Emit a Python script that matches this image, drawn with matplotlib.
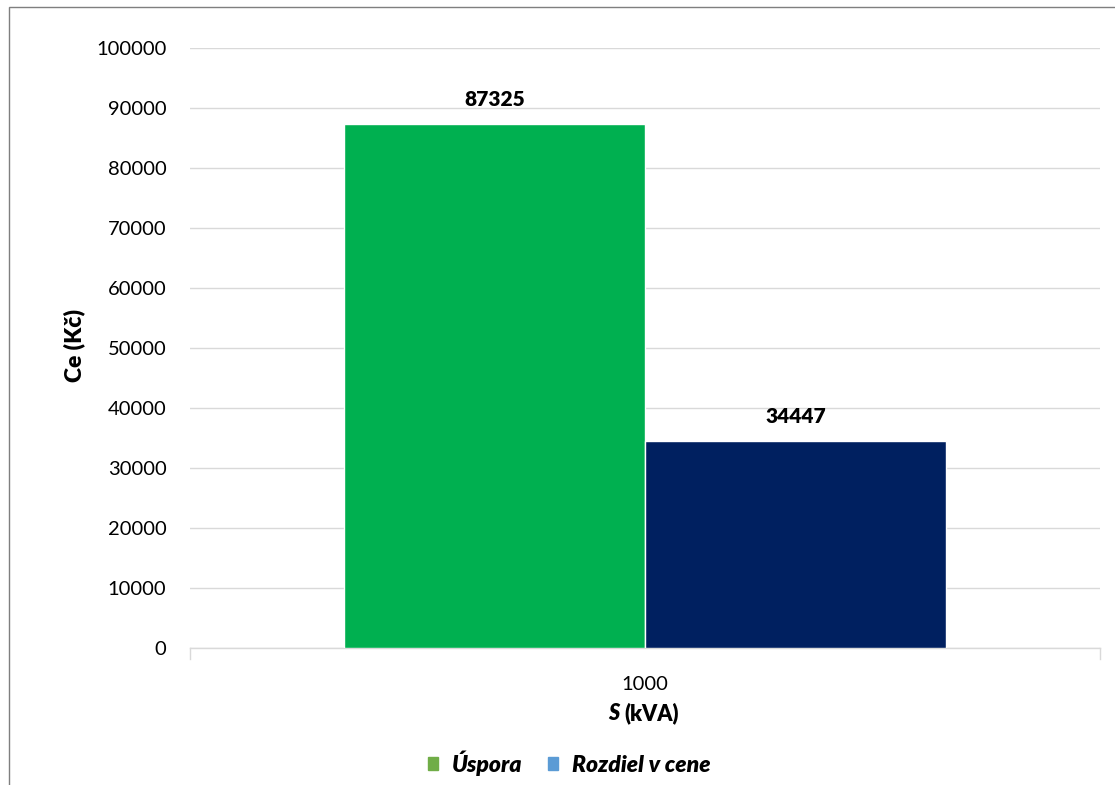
import matplotlib.pyplot as plt
from matplotlib.patches import Rectangle

plt.rcParams['font.family'] = ['Lato', 'DejaVu Sans']

categories = ['1000']
series_names = ['Úspora', 'Rozdiel v cene']
uspora = [87325]
rozdiel = [34447]
bar_colors = ['#00B050', '#002060']
legend_colors = ['#70AD47', '#5B9BD5']
y_ticks = list(range(0, 100001, 10000))

fig = plt.figure(figsize=(11.15, 7.85), dpi=100)
W, H = 1115, 785
ax = fig.add_axes([190 / W, 1 - 648 / H, 910 / W, 600 / H])

# outer chart frame
fig.patches.append(Rectangle((9 / W, -0.05), 1.1, 1 - 7 / H + 0.05,
                             transform=fig.transFigure, fill=False,
                             edgecolor='#7F7F7F', linewidth=1.0))

w = 0.331
xs = range(len(categories))
for i, (vals, color) in enumerate(zip([uspora, rozdiel], bar_colors)):
    offs = (i - 0.5) * w
    bars = ax.bar([x + offs for x in xs], vals, width=w, color=color,
                  edgecolor='white', linewidth=1.0, zorder=3)
    for b, v in zip(bars, vals):
        ax.annotate(str(v), (b.get_x() + b.get_width() / 2, v),
                    xytext=(0, 11), textcoords='offset points',
                    ha='center', va='bottom', fontsize=15, fontweight='heavy')

ax.set_xlim(-0.5, len(categories) - 0.5)
ax.set_ylim(0, 100000)
ax.set_yticks(y_ticks)
ax.set_yticklabels([str(t) for t in y_ticks], fontsize=14.5)
ax.set_xticks(list(xs))
ax.set_xticklabels(categories, fontsize=14.5)
ax.tick_params(axis='y', length=0, pad=17)
ax.tick_params(axis='x', length=0, pad=20)
ax.grid(axis='y', color='#D9D9D9', linewidth=1.0, zorder=0)

for s in ['top', 'right', 'left']:
    ax.spines[s].set_visible(False)
ax.spines['bottom'].set_color('#D9D9D9')
ax.spines['bottom'].set_linewidth(1.0)
# end ticks on the category axis
for xe in [-0.5, len(categories) - 0.5]:
    ax.plot([xe, xe], [0, -0.018], transform=ax.get_xaxis_transform(),
            color='#D9D9D9', linewidth=1.0, clip_on=False)

fig.text(74 / W, 1 - 346 / H, 'Ce (Kč)', rotation=90, ha='center',
         va='center', fontsize=16.5, fontweight='heavy')
fig.text(619 / W, 1 - 720 / H, 'S', ha='right', va='baseline', fontsize=15.5,
         fontweight='heavy', fontstyle='italic')
fig.text(624 / W, 1 - 720 / H, '(kVA)', ha='left', va='baseline',
         fontsize=15.5, fontweight='heavy')

handles = [Rectangle((0, 0), 1, 1, color=c) for c in legend_colors]
leg = fig.legend(handles, series_names, loc='center',
                 bbox_to_anchor=(569 / W, 1 - 763 / H), ncol=2, frameon=False,
                 handlelength=0.45, handleheight=0.45, handletextpad=0.6,
                 columnspacing=1.1,
                 prop={'size': 16.5, 'weight': 'heavy', 'style': 'italic'})

fig.savefig('out.png', dpi=100)
